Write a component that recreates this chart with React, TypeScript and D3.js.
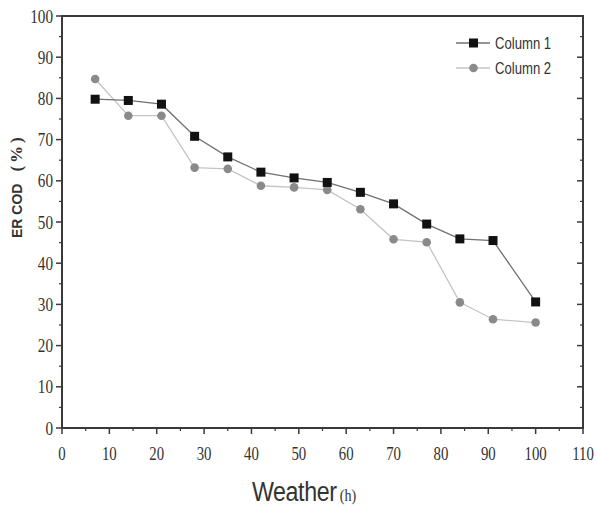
import React, { useRef, useEffect } from 'react';
import * as d3 from 'd3';

const hours = [7, 14, 21, 28, 35, 42, 49, 56, 63, 70, 77, 84, 91, 100];
const column1 = [79.8, 79.5, 78.6, 70.8, 65.8, 62.1, 60.7, 59.6, 57.2, 54.4, 49.5, 45.9, 45.5, 30.6];
const column2 = [84.7, 75.8, 75.8, 63.2, 62.9, 58.8, 58.4, 57.8, 53.1, 45.8, 45.1, 30.5, 26.4, 25.6];
const xTicks = [0, 10, 20, 30, 40, 50, 60, 70, 80, 90, 100, 110];
const yTicks = [0, 10, 20, 30, 40, 50, 60, 70, 80, 90, 100];
const seriesNames = ['Column 1', 'Column 2'];

export default function App() {
  const svgRef = useRef<SVGSVGElement>(null);

  useEffect(() => {
    if (!svgRef.current) return;
    const svg = d3.select(svgRef.current);
    svg.selectAll('*').remove();

    const width = 597;
    const height = 507;
    const margin = { top: 16, right: 14, bottom: 79, left: 62 };
    const innerWidth = width - margin.left - margin.right;
    const innerHeight = height - margin.top - margin.bottom;

    const g = svg.append('g').attr('transform', `translate(${margin.left},${margin.top})`);

    const x = d3.scaleLinear().domain([0, 110]).range([0, innerWidth]);
    const y = d3.scaleLinear().domain([0, 100]).range([innerHeight, 0]);

    const axisColor = '#3a3a3a';
    const serif = 'Liberation Serif, Times New Roman, serif';
    const sans = 'Liberation Sans, Arial, sans-serif';
    const minorX = d3.range(5, 110, 10);
    const minorY = d3.range(5, 100, 10);

    // left axis
    const left = g.append('g');
    left.selectAll('line.maj').data(yTicks).enter().append('line')
      .attr('x1', -6).attr('x2', 0).attr('y1', (d) => y(d)).attr('y2', (d) => y(d))
      .attr('stroke', axisColor).attr('stroke-width', 1.5);
    left.selectAll('line.min').data(minorY).enter().append('line')
      .attr('x1', -3).attr('x2', 0).attr('y1', (d) => y(d)).attr('y2', (d) => y(d))
      .attr('stroke', axisColor).attr('stroke-width', 1.2);
    left.selectAll('text').data(yTicks).enter().append('text')
      .attr('transform', (d) => `translate(-9,${y(d)}) scale(0.8,1)`)
      .attr('dy', '0.35em')
      .attr('text-anchor', 'end')
      .attr('font-family', serif).attr('font-size', 19)
      .attr('fill', '#333')
      .text((d) => d);

    // right axis, ticks inward
    const right = g.append('g');
    right.selectAll('line.maj').data(yTicks).enter().append('line')
      .attr('x1', innerWidth - 6).attr('x2', innerWidth).attr('y1', (d) => y(d)).attr('y2', (d) => y(d))
      .attr('stroke', axisColor).attr('stroke-width', 1.5);
    right.selectAll('line.min').data(minorY).enter().append('line')
      .attr('x1', innerWidth - 3).attr('x2', innerWidth).attr('y1', (d) => y(d)).attr('y2', (d) => y(d))
      .attr('stroke', axisColor).attr('stroke-width', 1.2);

    // bottom axis
    const bottom = g.append('g');
    bottom.selectAll('line.maj').data(xTicks).enter().append('line')
      .attr('x1', (d) => x(d)).attr('x2', (d) => x(d)).attr('y1', innerHeight).attr('y2', innerHeight + 6)
      .attr('stroke', axisColor).attr('stroke-width', 1.5);
    bottom.selectAll('line.min').data(minorX).enter().append('line')
      .attr('x1', (d) => x(d)).attr('x2', (d) => x(d)).attr('y1', innerHeight).attr('y2', innerHeight + 3)
      .attr('stroke', axisColor).attr('stroke-width', 1.2);
    bottom.selectAll('text').data(xTicks).enter().append('text')
      .attr('transform', (d) => `translate(${x(d)},${innerHeight + 32}) scale(0.78,1)`)
      .attr('text-anchor', 'middle')
      .attr('font-family', serif).attr('font-size', 19)
      .attr('fill', '#333')
      .text((d) => d);

    // frame
    g.append('rect')
      .attr('x', 0).attr('y', 0).attr('width', innerWidth).attr('height', innerHeight)
      .attr('fill', 'none').attr('stroke', axisColor).attr('stroke-width', 2);

    const line = d3.line<number>()
      .x((_, i) => x(hours[i]))
      .y((d) => y(d));

    // Column 2
    g.append('path').datum(column2).attr('d', line)
      .attr('fill', 'none').attr('stroke', '#c4c4c4').attr('stroke-width', 1.3);
    g.selectAll('circle.c2').data(column2).enter().append('circle')
      .attr('cx', (_, i) => x(hours[i])).attr('cy', (d) => y(d)).attr('r', 4.3)
      .attr('fill', '#8a8a8a');

    // Column 1
    g.append('path').datum(column1).attr('d', line)
      .attr('fill', 'none').attr('stroke', '#707070').attr('stroke-width', 1.3);
    g.selectAll('rect.c1').data(column1).enter().append('rect')
      .attr('x', (_, i) => x(hours[i]) - 4.5).attr('y', (d) => y(d) - 4.5)
      .attr('width', 9).attr('height', 9).attr('fill', '#111');

    // legend
    const legend = svg.append('g').attr('transform', 'translate(456,43)');
    legend.append('line').attr('x1', 0).attr('x2', 34).attr('y1', 0).attr('y2', 0)
      .attr('stroke', '#707070').attr('stroke-width', 1.3);
    legend.append('rect').attr('x', 13).attr('y', -4.5).attr('width', 9).attr('height', 9).attr('fill', '#111');
    legend.append('text')
      .attr('transform', 'translate(39,6) scale(0.82,1)')
      .attr('font-family', sans).attr('font-size', 16)
      .attr('fill', '#333')
      .text(seriesNames[0]);
    legend.append('line').attr('x1', 0).attr('x2', 34).attr('y1', 25).attr('y2', 25)
      .attr('stroke', '#c4c4c4').attr('stroke-width', 1.3);
    legend.append('circle').attr('cx', 17.5).attr('cy', 25).attr('r', 4.3).attr('fill', '#8a8a8a');
    legend.append('text')
      .attr('transform', 'translate(39,31) scale(0.82,1)')
      .attr('font-family', sans).attr('font-size', 16)
      .attr('fill', '#333')
      .text(seriesNames[1]);

    // axis titles
    const yt = svg.append('text')
      .attr('transform', 'translate(22,238) rotate(-90)')
      .attr('fill', '#333');
    yt.append('tspan')
      .attr('font-family', sans).attr('font-size', 14).attr('font-weight', 'bold')
      .text('ER COD');
    yt.append('tspan')
      .attr('font-family', serif).attr('font-size', 17).attr('font-weight', 'bold')
      .attr('dx', 12).attr('letter-spacing', 3)
      .text('(%)');

    const xt = svg.append('text')
      .attr('transform', 'translate(252,501) scale(0.83,1)')
      .attr('fill', '#333');
    xt.append('tspan')
      .attr('font-family', sans).attr('font-size', 28)
      .attr('letter-spacing', -0.5)
      .text('Weather');
    xt.append('tspan')
      .attr('font-family', serif).attr('font-size', 17)
      .attr('dx', 4)
      .text('(h)');
  }, []);

  return (
    <svg
      ref={svgRef}
      width={597}
      height={507}
      style={{ position: 'absolute', left: 0, top: 0, background: '#fff' }}
    />
  );
}
